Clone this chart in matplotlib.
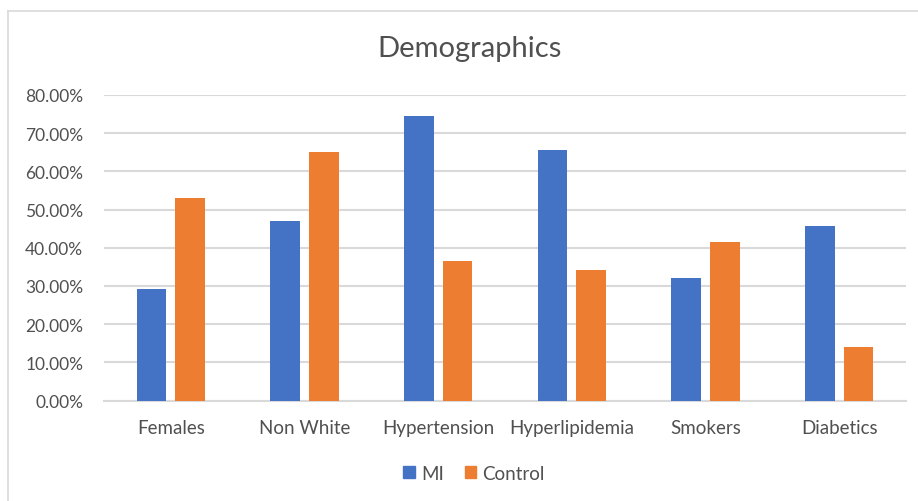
"""Demographics bar chart: MI vs Control, share of each group."""

import numpy as np
import matplotlib
matplotlib.use("Agg")
import matplotlib.pyplot as plt
from matplotlib.patches import Patch
from matplotlib.lines import Line2D
import matplotlib.ticker as ticker

categories = ["Females", "Non White", "Hypertension", "Hyperlipidemia",
              "Smokers", "Diabetics"]
mi_values = [29.2, 47.0, 74.4, 65.5, 32.0, 45.7]
control_values = [53.0, 65.1, 36.5, 34.2, 41.4, 14.0]
y_ticks = [0, 10, 20, 30, 40, 50, 60, 70, 80]

BLUE = "#4472C4"
ORANGE = "#ED7D31"
TEXT = "#505050"
GRID = "#D9D9D9"

plt.rcParams["font.family"] = ["Lato", "DejaVu Sans"]


def main():
    fig = plt.figure(figsize=(9.18, 5.02), dpi=100)
    ax = fig.add_axes([104 / 918, 1 - 401.5 / 502, 802 / 918, 305.5 / 502])

    x = np.arange(len(categories))
    width = 0.222
    offset = 0.144
    ax.bar(x - offset, mi_values, width, color=BLUE, label="MI", zorder=3)
    ax.bar(x + offset, control_values, width, color=ORANGE, label="Control",
           zorder=3)

    ax.set_xlim(-0.5, len(categories) - 0.5)
    ax.set_ylim(0, 80)
    ax.set_yticks(y_ticks)
    ax.yaxis.set_major_formatter(ticker.FuncFormatter(lambda v, _: f"{v:.2f}%"))
    ax.set_xticks(x)
    ax.set_xticklabels(categories)

    ax.grid(axis="y", color=GRID, linewidth=1.5, zorder=0)
    for side in ["top", "right", "left"]:
        ax.spines[side].set_visible(False)
    ax.spines["bottom"].set_color(GRID)
    ax.spines["bottom"].set_linewidth(1.5)
    ax.tick_params(axis="both", length=0, colors=TEXT)
    ax.tick_params(axis="y", pad=15, labelsize=12.5)
    ax.tick_params(axis="x", pad=13, labelsize=13.5)

    fig.text(470 / 918, 1 - 49 / 502, "Demographics", ha="center",
             va="center", fontsize=21, color=TEXT)

    handles = [Patch(color=BLUE), Patch(color=ORANGE)]
    fig.legend(handles, ["MI", "Control"], loc="center",
               bbox_to_anchor=(474 / 918, 1 - 474 / 502), ncol=2,
               frameon=False, fontsize=13.5, labelcolor=TEXT,
               handlelength=0.6, handleheight=0.6, handletextpad=0.35,
               columnspacing=1.1)

    # outer chart border (cropped on right and bottom)
    fig.add_artist(Line2D([8 / 918, 1], [1 - 11.5 / 502] * 2,
                          color=GRID, linewidth=1.2))
    fig.add_artist(Line2D([8 / 918] * 2, [0, 1 - 11.5 / 502],
                          color=GRID, linewidth=1.2))

    fig.savefig("out.png", dpi=100)


if __name__ == "__main__":
    main()
